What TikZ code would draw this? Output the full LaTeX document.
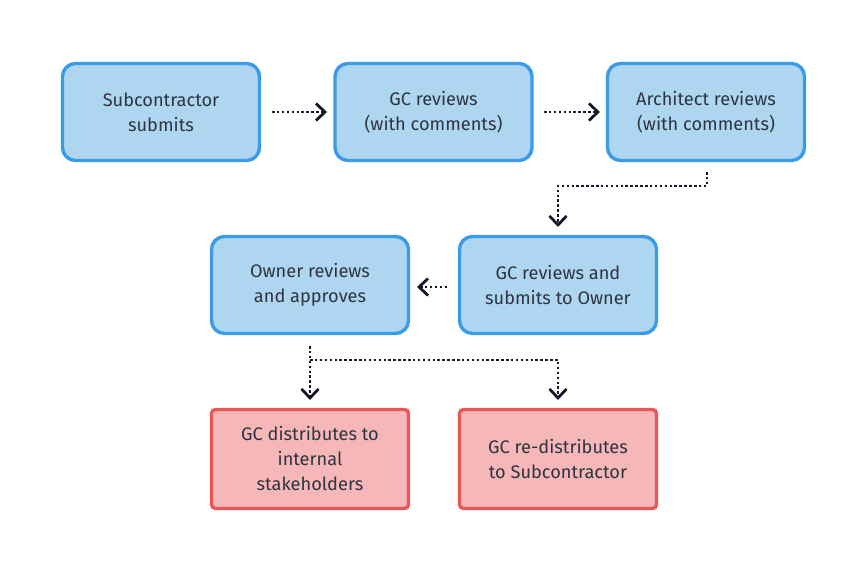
\documentclass[tikz,border=0pt]{standalone}
\usepackage{fontspec}
\setmainfont{Fira Sans}
\usetikzlibrary{arrows.meta,positioning}
\definecolor{bluefill}{HTML}{AED6F1}
\definecolor{blueline}{HTML}{3A9BE6}
\definecolor{redfill}{HTML}{F5B7B7}
\definecolor{redline}{HTML}{EB5757}
\definecolor{txt}{HTML}{2E3440}
\definecolor{arr}{HTML}{14172A}
\tikzset{
  box/.style={draw=blueline, fill=bluefill, line width=3.4pt, rounded corners=13pt,
    minimum width=197pt, minimum height=97pt, align=center, text=txt,
    font=\fontsize{18.2}{25}\selectfont, inner sep=0pt},
  rbox/.style={box, draw=redline, fill=redfill, rounded corners=4pt, minimum height=99pt},
  conn/.style={draw=arr, line width=2.7pt, dash pattern=on 2.5pt off 2.4pt,
    -{Straight Barb[length=9pt,width=17pt,line width=2.8pt]}},
}
\begin{document}
\begin{tikzpicture}[x=1pt,y=-1pt]
\useasboundingbox (0,0) rectangle (868,570);
\node[box] (sub) at (161,112) {Subcontractor\\submits};
\node[box] (gc1) at (433.5,112) {GC reviews\\(with comments)};
\node[box] (arch) at (706,112) {Architect reviews\\(with comments)};
\node[box] (own) at (310,285) {Owner reviews\\and approves};
\node[box] (gc2) at (558,285) {GC reviews and\\submits to Owner};
\node[rbox] (dist) at (310,459) {GC distributes to\\internal\\stakeholders};
\node[rbox] (redist) at (558,459) {GC re-distributes\\to Subcontractor};
\coordinate (a1s) at (272,112);
\coordinate (a1e) at (327,112);
\draw[conn] (a1s) -- (a1e);
\coordinate (a2s) at (544,112);
\coordinate (a2e) at (600,112);
\draw[conn] (a2s) -- (a2e);
\coordinate (a3s) at (707,172);
\coordinate (a3e) at (558,227);
\draw[conn] (a3s) -- (707,186) -| (a3e);
\coordinate (a4s) at (447,287);
\coordinate (a4e) at (417,287);
\draw[conn] (a4s) -- (a4e);
\coordinate (a5s) at (310,346);
\coordinate (a5e) at (310,400);
\coordinate (a6e) at (558,400);
\draw[conn] (a5s) -- (a5e);
\draw[conn] (310,360) -| (a6e);
\end{tikzpicture}
\end{document}
